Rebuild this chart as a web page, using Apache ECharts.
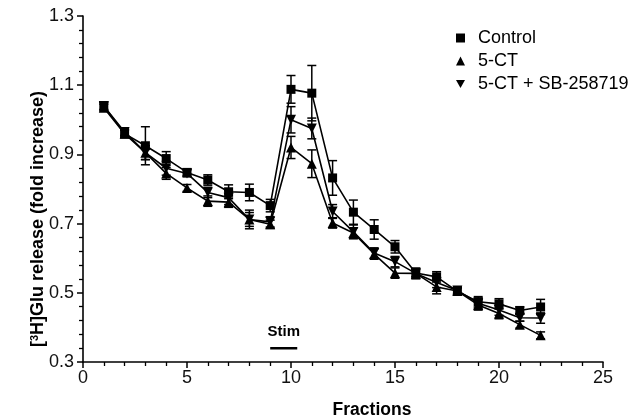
<!DOCTYPE html>
<html>
<head>
<meta charset="utf-8">
<script src="https://cdn.jsdelivr.net/npm/echarts@6/dist/echarts.min.js"></script>
<style>
html,body{margin:0;padding:0;background:#fff;}
#chart{width:639px;height:419px;}
</style>
</head>
<body>
<div id="chart"></div>
<script>
var fractions = [1,2,3,4,5,6,7,8,9,10,11,12,13,14,15,16,17,18,19,20,21,22];
var control    = [1.04,0.96,0.925,0.888,0.848,0.826,0.792,0.79,0.752,1.088,1.077,0.832,0.733,0.683,0.633,0.557,0.546,0.504,0.474,0.468,0.449,0.459];
var controlErr = [0.012,0.012,0.055,0.02,0.01,0.015,0.02,0.024,0.018,0.04,0.08,0.05,0.035,0.028,0.018,0.01,0.015,0.01,0.015,0.015,0.01,0.022];
var ct         = [1.035,0.96,0.905,0.845,0.803,0.765,0.762,0.712,0.698,0.92,0.873,0.702,0.673,0.612,0.557,0.556,0.517,0.505,0.465,0.44,0.408,0.377];
var ctErr      = [0.01,0.01,0.02,0.017,0.01,0.015,0.015,0.027,0.012,0.032,0.04,0.015,0.015,0.015,0.015,0.015,0.02,0.01,0.015,0.015,0.01,0.01];
var ctsb       = [1.04,0.965,0.905,0.86,0.845,0.79,0.775,0.712,0.705,1.0,0.975,0.735,0.676,0.615,0.59,0.556,0.53,0.507,0.47,0.45,0.428,0.427];
var ctsbErr    = [0.01,0.01,0.02,0.02,0.01,0.015,0.02,0.02,0.015,0.038,0.03,0.02,0.02,0.015,0.015,0.015,0.015,0.01,0.015,0.015,0.01,0.015];
var seriesNames = ['Control','5-CT','5-CT + SB-258719'];
var stimStart = 9, stimEnd = 10.3, stimLevel = 0.34, stimTextLevel = 0.386;
var xTicks = [0,25,5];
var yTicks = [0.3,1.3,0.2];

var FONT = 'Liberation Sans, Arial, Helvetica, sans-serif';
var downTri = 'path://M0,0L10,0L5,9Z';
var symbols = ['rect','triangle',downTri];
var sizes = [9,10,10];

function pts(ys){ return fractions.map(function(f,i){ return [f, ys[i]]; }); }
function errPts(ys,es){ return fractions.map(function(f,i){ return [f, ys[i], es[i]]; }); }

function errRender(params, api){
  var x = api.value(0), y = api.value(1), e = api.value(2);
  var top = api.coord([x, y+e]), bot = api.coord([x, y-e]);
  var cw = 4.5;
  var st = {stroke:'#000', lineWidth:1.5};
  return {type:'group', children:[
    {type:'line', shape:{x1:top[0],y1:top[1],x2:bot[0],y2:bot[1]}, style:st},
    {type:'line', shape:{x1:top[0]-cw,y1:top[1],x2:top[0]+cw,y2:top[1]}, style:st},
    {type:'line', shape:{x1:bot[0]-cw,y1:bot[1],x2:bot[0]+cw,y2:bot[1]}, style:st}
  ]};
}

var vals = [control, ct, ctsb];
var errs = [controlErr, ctErr, ctsbErr];
var series = [];
for (var k=0;k<3;k++){
  series.push({type:'custom', name:seriesNames[k]+' err', renderItem: errRender, data: errPts(vals[k], errs[k]), z:2, silent:true});
}
for (var k=0;k<3;k++){
  series.push({type:'line', name:seriesNames[k], data: pts(vals[k]), symbol:symbols[k], symbolSize:sizes[k],
    lineStyle:{color:'#000', width:1.6}, itemStyle:{color:'#000'}, z:3, animation:false});
}
series.push({type:'line', name:'stim', data:[[stimStart,stimLevel],[stimEnd,stimLevel]], symbol:'none',
  lineStyle:{color:'#000', width:2.5}, silent:true,
  markPoint:{symbol:'rect', symbolSize:1, itemStyle:{color:'rgba(0,0,0,0)'},
    data:[{coord:[(stimStart+stimEnd)/2, stimTextLevel], value:'Stim'}],
    label:{show:true, formatter:'Stim', color:'#000', fontFamily:FONT, fontWeight:'bold', fontSize:15}}
});

var chart = echarts.init(document.getElementById('chart'), null, {renderer:'canvas'});
chart.setOption({
  animation:false,
  backgroundColor:'#fff',
  grid:{left:83, right:36, top:16, bottom:57, containLabel:false, outerBoundsMode:'none'},
  legend:{
    orient:'vertical', left:451, top:24, itemGap:5, itemWidth:9, itemHeight:9,
    textStyle:{fontFamily:FONT, fontSize:18, color:'#000', padding:[0,0,0,8]},
    data:[{name:seriesNames[0], icon:'rect'},{name:seriesNames[1], icon:'triangle'},{name:seriesNames[2], icon:downTri}],
    itemStyle:{color:'#000'}
  },
  xAxis:{
    type:'value', min:xTicks[0], max:xTicks[1], interval:xTicks[2],
    name:'Fractions', nameLocation:'middle', nameGap:39, nameMoveOverlap:false,
    nameTextStyle:{fontFamily:FONT, fontWeight:'bold', fontSize:17.5, color:'#000', padding:[0,0,0,58]},
    axisLine:{onZero:false, lineStyle:{color:'#000', width:1.6}},
    axisTick:{show:true, length:6, lineStyle:{color:'#000', width:1.5}},
    minorTick:{show:true, splitNumber:5, length:4, lineStyle:{color:'#000', width:1.3}},
    splitLine:{show:false},
    axisLabel:{fontFamily:FONT, fontSize:18, color:'#111', margin:7}
  },
  yAxis:{
    type:'value', min:yTicks[0], max:yTicks[1], interval:yTicks[2],
    name:'[{s|3}H]Glu release (fold increase)', nameLocation:'middle', nameGap:36, nameRotate:90, nameMoveOverlap:false,
    nameTextStyle:{fontFamily:FONT, fontWeight:'bold', fontSize:18, color:'#000', padding:[0,60,0,0],
      rich:{s:{fontFamily:FONT, fontWeight:'bold', fontSize:11, color:'#000', verticalAlign:'top', padding:[0,0,7,0]}}},
    axisLine:{show:true, onZero:false, lineStyle:{color:'#000', width:1.6}},
    axisTick:{show:true, length:6, lineStyle:{color:'#000', width:1.5}},
    minorTick:{show:true, splitNumber:5, length:4, lineStyle:{color:'#000', width:1.3}},
    splitLine:{show:false},
    axisLabel:{fontFamily:FONT, fontSize:18, color:'#111', margin:9,
      formatter:function(v){ return v.toFixed(1); }}
  },
  series: series
});
</script>
</body>
</html>
